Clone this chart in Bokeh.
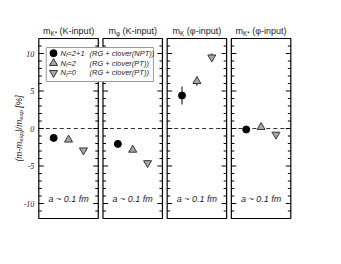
from math import pi
from bokeh.plotting import figure
from bokeh.models import Range1d, Label, BoxAnnotation
from bokeh.embed import file_html
from bokeh.resources import INLINE

# ---------------- data ----------------
panel_sub = ["K*", "\u03c6", "K", "K*"]
panel_input = ["(K-input)", "(K-input)", "(\u03c6-input)", "(\u03c6-input)"]
series_label = ["2+1", "2", "0"]
series_action = ["(RG + clover(NPT))", "(RG + clover(PT))", "(RG + clover(PT))"]
nf21 = [-1.25, -2.05, 4.4, -0.13]
nf21_err = [0.3, 0.35, 1.2, 0.3]
nf2 = [-1.5, -2.85, 6.3, 0.18]
nf2_err = [0.25, 0.3, 0.6, 0.25]
nf0 = [-2.9, -4.6, 9.5, -0.8]
nf0_err = [0.25, 0.3, 0.5, 0.3]
y_major = [-10, -5, 0, 5, 10]
y_tick_labels = ["-10", "-5", "0", "5", "10"]
y_minor = [v for v in range(-11, 12) if v % 5 != 0]
spacing_text = "a ~ 0.1 fm"

# ---------------- layout constants ----------------
PW = 4.0          # panel width in data units
PITCH = 4.316     # panel pitch (panel + gap)
XPX = 14.87       # px per x unit
YPX = 7.5         # px per y unit
FONT = "Liberation Sans"
W, H = 333, 256
X0 = -38.3 / XPX
Y1 = 128 / YPX

CW = {'(': .333, ')': .333, 'm': .833, '-': .333, 'e': .556, 'x': .5, 'p': .556,
      '/': .278, ' ': .278, '[': .278, ']': .278, '%': .889, 'K': .667, '*': .389,
      '\u03c6': .65, 'i': .222, 'n': .556, 'u': .556, 't': .278, 'N': .722,
      'f': .278, '=': .584, '2': .556, '+': .584, '1': .556, '0': .556}


def tw(s, fs):
    return sum(CW.get(c, .55) for c in s) * fs


n = len(nf21)
p = figure(width=W, height=H, min_border=0,
           x_range=Range1d(X0, X0 + W / XPX), y_range=Range1d(Y1 - H / YPX, Y1),
           x_axis_type=None, y_axis_type=None,
           output_backend="svg", toolbar_location=None)
p.outline_line_color = None
p.background_fill_color = "white"
p.border_fill_color = "white"

# panel frames, ticks, zero lines
lefts = [i * PITCH for i in range(n)]
rights = [l + PW for l in lefts]
p.segment(x0=lefts, x1=rights, y0=0, y1=0, line_dash="4 3", line_color="#333", line_width=1)

tx0, tx1, ty = [], [], []
for l, r in zip(lefts, rights):
    for v in y_major:
        L = 5 / XPX
        tx0 += [l, r]; tx1 += [l + L, r - L]; ty += [v, v]
    for v in y_minor:
        L = 3 / XPX
        tx0 += [l, r]; tx1 += [l + L, r - L]; ty += [v, v]
p.segment(x0=tx0, x1=tx1, y0=ty, y1=ty, line_color="black", line_width=1)
p.quad(left=lefts, right=rights, top=12, bottom=-12, fill_color=None,
       line_color="black", line_width=1.2)

# y tick labels
p.text(x=[-4.5 / XPX] * len(y_major), y=y_major, text=y_tick_labels, text_font=FONT,
       text_font_style="italic", text_font_size="8px", text_color="#222",
       text_align="right", text_baseline="middle")

# data
styles = [
    dict(marker="circle", size=7, fill_color="black", line_color="black"),
    dict(marker="triangle", size=8, fill_color="#a8a8a8", line_color="#333"),
    dict(marker="inverted_triangle", size=8, fill_color="#a8a8a8", line_color="#333"),
]
for j, (vals, errs) in enumerate([(nf21, nf21_err), (nf2, nf2_err), (nf0, nf0_err)]):
    xs = [i * PITCH + (j + 1) for i in range(n)]
    p.segment(x0=xs, x1=xs, y0=[v - e for v, e in zip(vals, errs)],
              y1=[v + e for v, e in zip(vals, errs)], line_color="black", line_width=1)
    p.scatter(x=xs, y=vals, line_width=1, **styles[j])

# panel titles
TFS = 9
for i in range(n):
    cx = lefts[i] + PW / 2
    sub_fs = 6.3
    w_m = tw("m", TFS)
    w_s = tw(panel_sub[i], sub_fs)
    w_sp = tw(" ", TFS)
    w_r = tw(panel_input[i], TFS)
    start = -(w_m + w_s + w_sp + w_r) / 2
    common = dict(x=cx, y=13.0, text_font=FONT, text_color="#222", text_align="left",
                  text_baseline="alphabetic")
    p.add_layout(Label(text="m", x_offset=start, text_font_size=f"{TFS}px", **common))
    p.add_layout(Label(text=panel_sub[i], x_offset=start + w_m, y_offset=-2.5,
                       text_font_size=f"{sub_fs}px", **common))
    p.add_layout(Label(text=panel_input[i], x_offset=start + w_m + w_s + w_sp,
                       text_font_size=f"{TFS}px", **common))
    p.add_layout(Label(x=cx, y=-9.4, text=spacing_text, text_font=FONT,
                       text_font_style="italic", text_font_size="9px", text_color="#222",
                       text_align="center", text_baseline="middle"))

# y axis label (rotated, composed)
YFS, YSFS = 8.5, 6
pieces = [("(m-m", YFS, 0, 0), ("exp", YSFS, 2.5, 0), (")/m", YFS, 0, 0),
          ("exp", YSFS, 2.5, 0), ("[%]", YFS, 0, tw(" ", YFS))]
total = sum(tw(t, f) + g for t, f, _, g in pieces)
cum = -total / 2
for t, f, d, g in pieces:
    cum += g
    p.add_layout(Label(x=-20.0 / XPX, y=0, text=t, angle=pi / 2, x_offset=d, y_offset=cum,
                       text_font=FONT, text_font_style="italic", text_font_size=f"{f}px",
                       text_color="#222", text_align="left", text_baseline="alphabetic"))
    cum += tw(t, f)

# legend
p.add_layout(BoxAnnotation(left=0.5, right=7.71, top=10.8, bottom=6.27, fill_color="white",
                           fill_alpha=1, line_color="#999", line_width=1, line_alpha=1))
ly = [10.04, 8.71, 7.43]
for j in range(3):
    r = p.scatter(x=[0.99], y=[ly[j]], line_width=1, **styles[j])
    r.level = "overlay"
    LFS = 7.5
    common = dict(y=ly[j], text_font=FONT, text_font_style="italic", text_color="#222",
                  text_align="left", text_baseline="middle", level="overlay")
    p.add_layout(Label(x=1.46, text="N", text_font_size=f"{LFS}px", **common))
    p.add_layout(Label(x=1.46, text="f", x_offset=tw("N", LFS), y_offset=-2,
                       text_font_size="5.5px", **common))
    p.add_layout(Label(x=1.46, text="=" + series_label[j],
                       x_offset=tw("N", LFS) + tw("f", 5.5), text_font_size=f"{LFS}px", **common))
    p.add_layout(Label(x=3.41, text=series_action[j], text_font_size=f"{LFS}px", **common))

open("out.html", "w").write(file_html(p, INLINE))
